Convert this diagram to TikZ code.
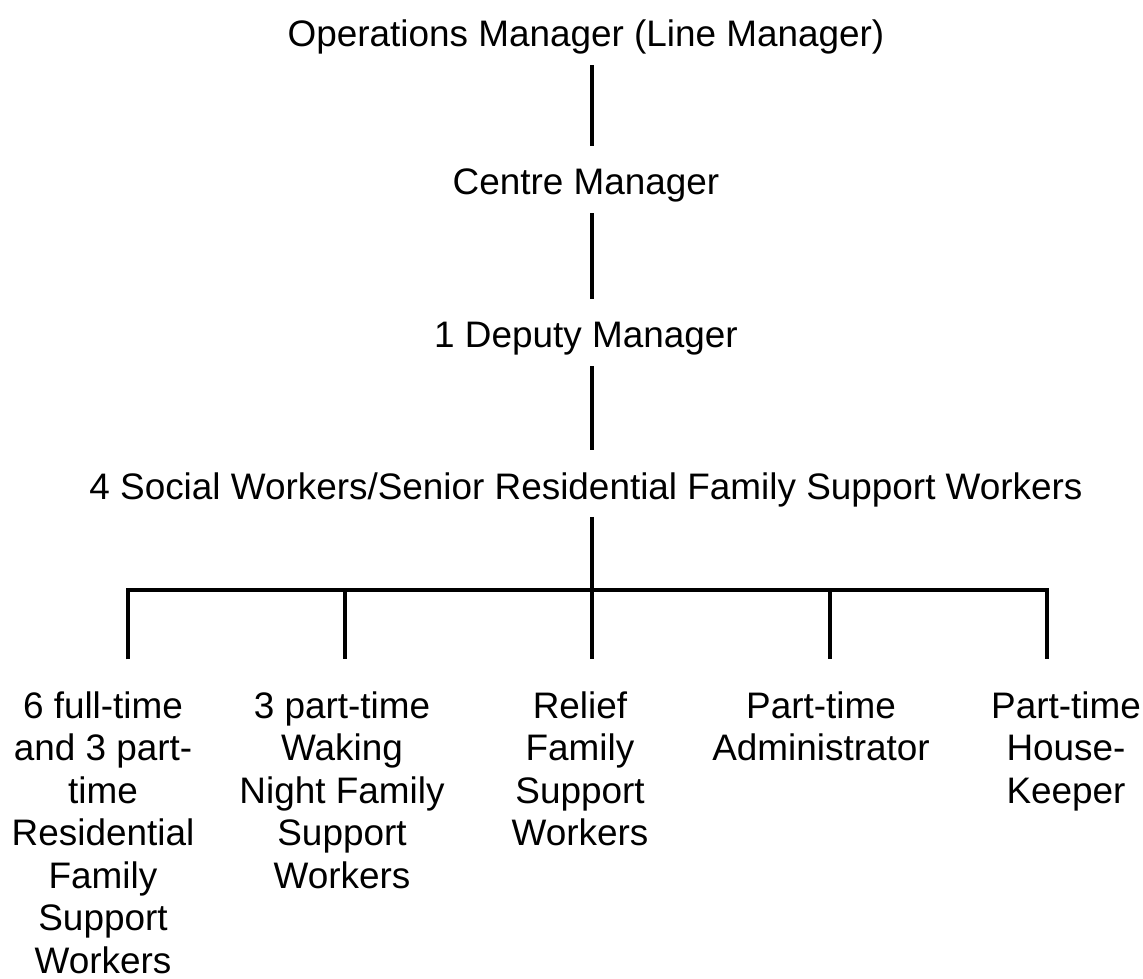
\documentclass[tikz,border=0pt]{standalone}
\usepackage{fontspec}
\setmainfont{Liberation Sans}
\begin{document}
\begin{tikzpicture}[x=0.02cm,y=-0.02cm,
    every node/.style={font=\fontsize{21}{24.2}\selectfont, inner sep=0pt},
    post/.style={anchor=base},
    team/.style={anchor=north, align=center},
    link/.style={line width=2.8pt},
    stem/.style={link, shorten <=5.7pt, shorten >=13pt},
    drop/.style={link, shorten >=18pt}]
  \useasboundingbox (0,0) rectangle (1143,979);
  \node[post] (om) at (586,47) {Operations Manager (Line Manager)};
  \node[post] (cm) at (586,195) {Centre Manager};
  \node[post] (dm) at (586,348) {1 Deputy Manager};
  \node[post] (sw) at (586,500) {4 Social Workers/Senior Residential Family Support Workers};
  \node[team] (rfsw) at (103,691) {6 full-time\\and 3 part-\\time\\Residential\\Family\\Support\\Workers};
  \node[team] (wnsw) at (342,691) {3 part-time\\Waking\\Night Family\\Support\\Workers};
  \node[team] (rlf) at (580,691) {Relief\\Family\\Support\\Workers};
  \node[team] (adm) at (821,691) {Part-time\\Administrator};
  \node[team] (hk) at (1066,691) {Part-time\\House-\\Keeper};
  \coordinate (spine) at (592,0);
  \foreach \x [count=\i] in {128,345,592,830,1047}
    \coordinate (j\i) at (\x,590);
  \draw[stem] (om.south -| spine) -- (cm.north -| spine);
  \draw[stem] (cm.south -| spine) -- (dm.north -| spine);
  \draw[stem] (dm.south -| spine) -- (sw.north -| spine);
  \draw[link, shorten <=5pt] (sw.south -| spine) -- (j3);
  \draw[link, shorten <=18pt, shorten >=18pt]
    (rfsw.north -| j1) -- (j1) -- (j5) -- (hk.north -| j5);
  \foreach \j/\n in {j2/wnsw,j3/rlf,j4/adm}
    \draw[drop] (\j) -- (\n.north -| \j);
\end{tikzpicture}
\end{document}
